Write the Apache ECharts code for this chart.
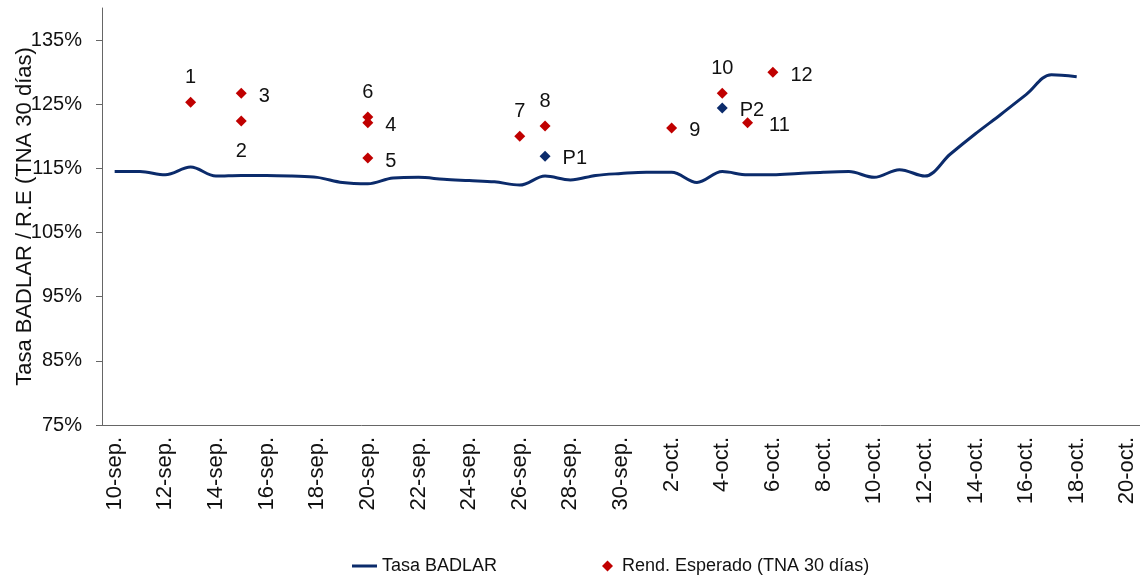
<!DOCTYPE html>
<html>
<head>
<meta charset="utf-8">
<script src="https://cdn.jsdelivr.net/npm/echarts@6/dist/echarts.min.js"></script>
<style>
  html, body { margin: 0; padding: 0; background: #fff; }
  #chart { width: 1140px; height: 575px; }
</style>
</head>
<body>
<div id="chart"></div>
<script>
// dias del eje (10-sep a 20-oct)
var days = ['10-sep.', '11-sep.', '12-sep.', '13-sep.', '14-sep.', '15-sep.', '16-sep.', '17-sep.', '18-sep.', '19-sep.',
  '20-sep.', '21-sep.', '22-sep.', '23-sep.', '24-sep.', '25-sep.', '26-sep.', '27-sep.', '28-sep.', '29-sep.',
  '30-sep.', '1-oct.', '2-oct.', '3-oct.', '4-oct.', '5-oct.', '6-oct.', '7-oct.', '8-oct.', '9-oct.',
  '10-oct.', '11-oct.', '12-oct.', '13-oct.', '14-oct.', '15-oct.', '16-oct.', '17-oct.', '18-oct.', '19-oct.', '20-oct.'];

// Tasa BADLAR (%)
var badlar = [114.5, 114.5, 114.0, 115.2, 113.8, 113.9, 113.9, 113.8, 113.6, 112.8,
  112.6, 113.5, 113.6, 113.3, 113.1, 112.9, 112.4, 113.8, 113.2, 113.9,
  114.2, 114.4, 114.4, 112.8, 114.5, 114.0, 114.0, 114.2, 114.4, 114.5,
  113.6, 114.8, 113.8, 117.2, 120.4, 123.4, 126.5, 129.6, 129.3];

// Rendimiento esperado (TNA 30 dias)
var reNames = ['1', '2', '3', '4', '5', '6', '7', '8', '9', '10', '11', '12'];
var reDates = ['13-sep.', '15-sep.', '15-sep.', '20-sep.', '20-sep.', '20-sep.', '26-sep.', '27-sep.', '2-oct.', '4-oct.', '5-oct.', '6-oct.'];
var reValues = [125.3, 122.4, 126.7, 122.1, 116.6, 123.0, 120.0, 121.6, 121.3, 126.7, 122.1, 130.0];

// puntos P
var pNames = ['P1', 'P2'];
var pDates = ['27-sep.', '4-oct.'];
var pValues = [116.9, 124.4];

var yTicks = [75, 85, 95, 105, 115, 125, 135];

// donde va cada etiqueta
var labelPos = { '1': 'top', '2': 'bottom', '6': 'top', '7': 'top', '8': 'top', '10': 'top' };

var navy = '#0b2b6b';
var red = '#c00000';

var chart = echarts.init(document.getElementById('chart'));

var reData = reNames.map(function (n, i) {
  var pos = labelPos[n] || 'right';
  var lbl = { position: pos, distance: 9 };
  if (pos === 'bottom') lbl.distance = 15;
  if (pos === 'right') { lbl.distance = 12; lbl.offset = [0, 3]; }
  if (n === '11') lbl.distance = 16;
  return { name: n, value: [reDates[i], reValues[i]], label: lbl };
});
var pData = pNames.map(function (n, i) {
  return { name: n, value: [pDates[i], pValues[i]] };
});

var option = {
  animation: false,
  textStyle: { fontFamily: 'Liberation Sans, Arial, sans-serif' },
  grid: { left: 102, right: 0, top: 8, bottom: 150, containLabel: false, outerBoundsMode: 'none' },
  legend: [
    {
      left: 347,
      top: 552,
      icon: 'rect',
      itemWidth: 25,
      itemHeight: 3,
      itemGap: 0,
      textStyle: { fontSize: 18, color: '#111' },
      data: ['Tasa BADLAR']
    },
    {
      left: 597,
      top: 552,
      icon: 'diamond',
      itemWidth: 11,
      itemHeight: 11,
      itemGap: 0,
      textStyle: { fontSize: 18, color: '#111', padding: [0, 0, 0, 4] },
      data: ['Rend. Esperado (TNA 30 días)']
    }
  ],
  xAxis: {
    type: 'category',
    data: days,
    boundaryGap: true,
    axisLine: { lineStyle: { color: '#666', width: 1 } },
    axisTick: { interval: 1, length: 6, lineStyle: { color: '#666' } },
    axisLabel: { interval: 1, rotate: 90, fontSize: 22, color: '#111', margin: 12 },
    splitLine: { show: false }
  },
  yAxis: {
    type: 'value',
    min: 75,
    max: 140,
    name: 'Tasa BADLAR / R.E (TNA 30 días)',
    nameLocation: 'middle',
    nameGap: 66,
    nameMoveOverlap: false,
    nameTextStyle: { fontSize: 22, color: '#111' },
    axisLine: { show: true, lineStyle: { color: '#666', width: 1 } },
    axisTick: { show: true, length: 6, customValues: yTicks, lineStyle: { color: '#666' } },
    axisLabel: {
      customValues: yTicks,
      fontSize: 20,
      color: '#111',
      margin: 20,
      formatter: function (v) { return v + '%'; }
    },
    splitLine: { show: false }
  },
  series: [
    {
      name: 'Tasa BADLAR',
      type: 'line',
      data: badlar,
      smooth: 0.35,
      showSymbol: false,
      symbol: 'none',
      lineStyle: { color: navy, width: 3 },
      itemStyle: { color: navy }
    },
    {
      name: 'Rend. Esperado (TNA 30 días)',
      type: 'scatter',
      symbol: 'diamond',
      symbolSize: 11,
      itemStyle: { color: red, opacity: 1 },
      label: {
        show: true,
        formatter: '{b}',
        fontSize: 20,
        color: '#111'
      },
      data: reData
    },
    {
      name: 'P',
      type: 'scatter',
      symbol: 'diamond',
      symbolSize: 11,
      itemStyle: { color: navy, opacity: 1 },
      label: {
        show: true,
        position: 'right',
        distance: 12,
        offset: [0, 2],
        formatter: '{b}',
        fontSize: 20,
        color: '#111'
      },
      data: pData
    }
  ]
};

chart.setOption(option);
</script>
</body>
</html>
